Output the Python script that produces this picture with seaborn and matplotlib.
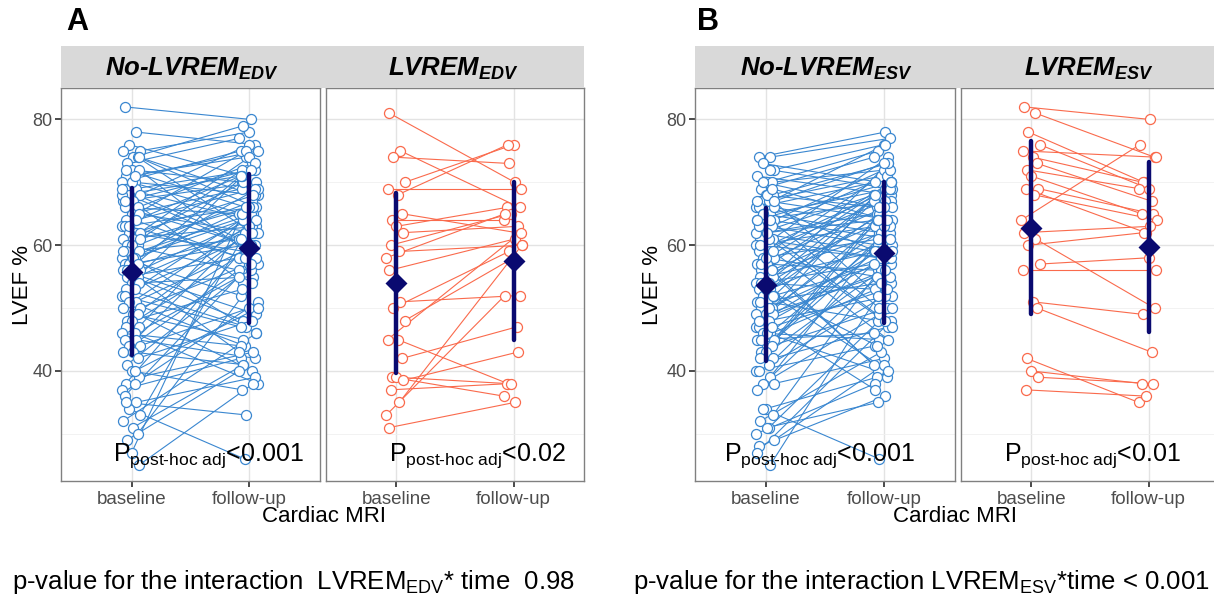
import numpy as np
import pandas as pd
import matplotlib.pyplot as plt
import seaborn as sns

# ---- data (LVEF %, paired baseline / follow-up) ----
# A: grouped by LVREM_EDV
a_no_base = [82, 78, 76, 75, 75, 74, 74, 73, 72, 72,
             71, 70, 70, 69, 69, 68, 68, 67, 67, 66,
             66, 65, 65, 64, 64, 63, 63, 62, 62, 62,
             61, 61, 60, 60, 60, 59, 59, 58, 58, 57,
             57, 57, 56, 56, 55, 55, 55, 54, 54, 53,
             53, 52, 52, 51, 51, 50, 50, 49, 49, 48,
             48, 47, 47, 46, 46, 45, 45, 44, 44, 43,
             43, 42, 41, 40, 39, 38, 38, 37, 36, 35,
             34, 33, 32, 31, 30, 29, 27, 25, 35, 40,
             68, 66, 64, 63, 61, 59, 58, 57, 56, 70,
             74, 72, 71, 69, 67]
a_no_fu = [80, 76, 71, 78, 66, 79, 62, 77, 70, 58,
           74, 68, 75, 64, 72, 60, 76, 70, 54, 73,
           65, 69, 62, 75, 57, 71, 66, 68, 59, 74,
           63, 70, 67, 56, 72, 65, 61, 69, 52, 66,
           73, 60, 64, 49, 48, 63, 58, 71, 55, 47,
           62, 47, 65, 60, 44, 57, 64, 45, 40, 61,
           53, 66, 59, 38, 44, 56, 42, 62, 50, 58,
           41, 48, 55, 37, 43, 60, 51, 42, 57, 39,
           26, 63, 46, 41, 54, 40, 65, 38, 33, 50,
           71, 60, 69, 58, 66, 46, 64, 62, 43, 65,
           68, 66, 75, 61, 72]
a_lv_base = [81, 75, 74, 70, 69, 68, 65, 64, 63, 62, 60, 59, 58, 56,
             51, 50, 48, 45, 45, 42, 39, 39, 38.5, 37, 35, 33, 31]
a_lv_fu = [70, 66, 73, 76, 69, 76, 62, 64, 66, 63, 65, 60, 65, 61,
           52, 59, 58, 62, 38, 47, 36, 38, 43, 38, 60, 52, 35]

# B: grouped by LVREM_ESV
b_no_base = [74, 74, 73, 72, 71, 70, 70, 69, 68, 68,
             67, 67, 66, 66, 65, 65, 64, 64, 63, 63,
             62, 62, 61, 61, 60, 60, 59, 59, 58, 58,
             57, 57, 56, 56, 55, 55, 55, 54, 54, 53,
             53, 52, 52, 51, 51, 50, 50, 49, 49, 48,
             48, 47, 47, 46, 46, 45, 45, 44, 44, 43,
             43, 42, 42, 41, 40, 40, 39, 38, 38, 37,
             46, 47, 45, 34, 33, 32, 31, 30, 28, 25,
             34, 29, 27, 31, 56, 57, 58, 59, 60, 61,
             62, 63, 64, 65, 66, 67, 68, 69, 54, 53,
             52, 51, 50, 49, 48,
             72, 70, 67, 64, 62]
b_no_fu = [78, 77, 70, 76, 68, 75, 72, 74, 66, 73,
           71, 64, 70, 76, 69, 62, 72, 67, 60, 71,
           68, 65, 74, 58, 69, 63, 67, 72, 61, 66,
           70, 56, 64, 68, 59, 73, 62, 66, 53, 69,
           61, 65, 57, 70, 48, 63, 67, 55, 60, 64,
           52, 68, 58, 62, 45, 66, 54, 61, 50, 59,
           64, 47, 56, 60, 44, 52, 63, 49, 42, 57,
           40, 53, 46, 39, 58, 43, 50, 38, 36, 55,
           26, 41, 48, 35, 39, 41, 55, 45, 58, 47,
           59, 48, 61, 50, 63, 58, 52, 64, 57, 44,
           40, 54, 59, 37, 56,
           69, 66, 73, 70, 64]
b_lv_base = [82, 81, 78, 76, 75, 74, 73, 72, 71, 69, 69, 68,
             64, 62, 61, 60, 57, 56, 51, 50, 42, 40, 39, 37]
b_lv_fu = [80, 74, 70, 69, 74, 70, 67, 69, 65, 65, 62, 64,
           76, 63, 50, 62, 58, 56, 49, 43, 35, 38, 38, 36]

times = ['baseline', 'follow-up']
strip_labels = ['No-LVREM$_{EDV}$', 'LVREM$_{EDV}$', 'No-LVREM$_{ESV}$', 'LVREM$_{ESV}$']
p_labels = [r'P$_{\text{post-hoc adj}}$<0.001', r'P$_{\text{post-hoc adj}}$<0.02',
            r'P$_{\text{post-hoc adj}}$<0.001', r'P$_{\text{post-hoc adj}}$<0.01']

blue = '#3A87D0'
orange = '#FA6A4C'
navy = '#0A0A70'

# small horizontal jitter pattern (position only)
jit = [-0.06, 0.035, -0.025, 0.07, -0.075, 0.01, 0.05, -0.04, 0.0, 0.06, -0.05, 0.025, -0.085]

sns.set_theme(style='white')
plt.rcParams['font.family'] = ['Liberation Sans', 'DejaVu Sans']
plt.rcParams['text.color'] = 'black'
plt.rcParams['mathtext.fontset'] = 'custom'
plt.rcParams['mathtext.rm'] = 'Liberation Sans'
plt.rcParams['mathtext.it'] = 'Liberation Sans:italic'
plt.rcParams['mathtext.bf'] = 'Liberation Sans:bold'
plt.rcParams['mathtext.default'] = 'regular'

W, H = 1214, 600
fig = plt.figure(figsize=(W / 100, H / 100), dpi=100)


def long_df(base, fu):
    n = len(base)
    ids = list(range(n)) * 2
    t = [0] * n + [1] * n
    vals = list(base) + list(fu)
    xj = [0 + jit[i % len(jit)] for i in range(n)] + [1 + jit[(i + 5) % len(jit)] for i in range(n)]
    return pd.DataFrame({'id': ids, 't': t, 'xj': xj, 'value': vals})


def box(l, t, r, b):
    return [l / W, 1 - b / H, (r - l) / W, (b - t) / H]


def panel(ax, base, fu, color, ptext, px, first):
    df = long_df(base, fu)
    sns.lineplot(data=df, x='xj', y='value', units='id', estimator=None, color=color,
                 lw=0.8, ax=ax, legend=False)
    sns.scatterplot(data=df, x='xj', y='value', color='white', edgecolor=color,
                    linewidth=0.9, s=52, ax=ax, zorder=3, legend=False)
    sns.pointplot(data=df, x='t', y='value', errorbar='sd', native_scale=True, color=navy,
                  markers='D', markersize=9.5, linestyles='none',
                  err_kws={'linewidth': 3.2, 'zorder': 5}, zorder=6, ax=ax)
    ax.set_xlim(-0.6, 1.6)
    ax.set_ylim(22.5, 85)
    ax.set_xticks([0, 1])
    ax.set_xticklabels(times, color='#4D4D4D', fontsize=13.5)
    ax.set_yticks([40, 60, 80])
    ax.set_yticks([30, 50, 70], minor=True)
    ax.grid(True, which='major', color='#E3E3E3', lw=1.0)
    ax.grid(True, which='minor', axis='y', color='#F0F0F0', lw=0.6)
    ax.set_axisbelow(True)
    for s in ax.spines.values():
        s.set_color('#808080')
        s.set_linewidth(1.0)
    ax.tick_params(axis='x', bottom=True, length=4, color='#333333', pad=3)
    ax.tick_params(which='minor', length=0)
    if first:
        ax.tick_params(axis='y', left=True, length=4, color='#333333', labelsize=13,
                       labelcolor='#4D4D4D', pad=2)
    else:
        ax.tick_params(axis='y', left=False, labelleft=False)
    ax.set_xlabel('')
    ax.set_ylabel('')
    ax.text(px, 25.7, ptext, ha='center', va='baseline', fontsize=18, color='black', zorder=7)


def strip(l, r, label):
    sax = fig.add_axes(box(l, 46, r, 88))
    sax.set_facecolor('#D9D9D9')
    sax.set_xticks([])
    sax.set_yticks([])
    for s in sax.spines.values():
        s.set_visible(False)
    sax.text(0.5, 0.45, label, ha='center', va='center', fontsize=18.5,
             fontweight='bold', style='italic', transform=sax.transAxes)


# panel A
ax1 = fig.add_axes(box(61, 88, 320, 481))
ax2 = fig.add_axes(box(326, 88, 584, 481))
# panel B (right facet runs slightly past the image edge)
ax3 = fig.add_axes(box(695, 88, 955, 481))
ax4 = fig.add_axes(box(961, 88, 1219, 481))

panel(ax1, a_no_base, a_no_fu, blue, p_labels[0], 0.65, True)
panel(ax2, a_lv_base, a_lv_fu, orange, p_labels[1], 0.69, False)
panel(ax3, b_no_base, b_no_fu, blue, p_labels[2], 0.45, True)
panel(ax4, b_lv_base, b_lv_fu, orange, p_labels[3], 0.52, False)

strip(61, 323, strip_labels[0])
strip(323, 584, strip_labels[1])
strip(695, 958, strip_labels[2])
strip(958, 1219, strip_labels[3])

fig.text(66 / W, 1 - 22 / H, 'A', fontsize=22, fontweight='bold', ha='left', va='center')
fig.text(697 / W, 1 - 22 / H, 'B', fontsize=22, fontweight='bold', ha='left', va='center')

fig.text(22 / W, 1 - 285 / H, 'LVEF %', rotation=90, fontsize=16, ha='center', va='center')
fig.text(652 / W, 1 - 285 / H, 'LVEF %', rotation=90, fontsize=16, ha='center', va='center')
fig.text(324 / W, 1 - 517 / H, 'Cardiac MRI', fontsize=16, ha='center', va='center')
fig.text(955 / W, 1 - 517 / H, 'Cardiac MRI', fontsize=16, ha='center', va='center')

fig.text(12 / W, 1 - 582 / H, 'p-value for the interaction  LVREM$_{EDV}$* time  0.98',
         fontsize=18.5, ha='left', va='center')
fig.text(1210 / W, 1 - 582 / H, 'p-value for the interaction LVREM$_{ESV}$*time < 0.001',
         fontsize=18.5, ha='right', va='center')

fig.savefig('out.png', dpi=100, facecolor='white')
